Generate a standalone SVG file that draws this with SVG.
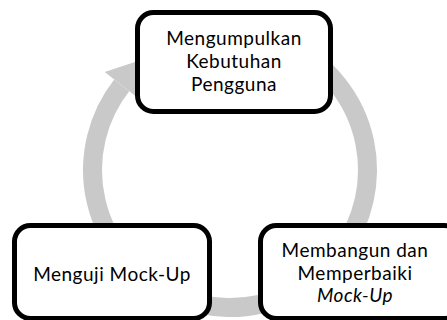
<svg xmlns="http://www.w3.org/2000/svg" width="447" height="320" viewBox="0 0 447 320">
<style>
.box{fill:#ffffff;stroke:#000000;stroke-width:5}
.lbl{font-family:Lato,"Open Sans",sans-serif;font-size:19px;letter-spacing:0.5px;fill:#000000;text-anchor:middle}
.ring{fill:none;stroke:#c9c9c9;stroke-width:19}
.head{fill:#c9c9c9}
</style>
<rect width="447" height="320" fill="#ffffff"/>
<g id="connectors">
<path class="ring" d="M230,32.5 A137.5,137.5 0 1 1 121.7,85.3"/>
<polygon class="head" points="104.7,72.1 153.1,56 138.6,98.6"/>
</g>
<g id="node-kebutuhan">
<rect class="box" x="137.5" y="12.5" width="193" height="99" rx="16"/>
<text class="lbl" x="234" y="45">Mengumpulkan</text>
<text class="lbl" x="234" y="68">Kebutuhan</text>
<text class="lbl" x="234" y="91">Pengguna</text>
</g>
<g id="node-menguji">
<rect class="box" x="14.5" y="225.5" width="195" height="93" rx="16"/>
<text class="lbl" x="112" y="281">Menguji Mock-Up</text>
</g>
<g id="node-membangun">
<rect class="box" x="260.5" y="225.5" width="200" height="93" rx="16"/>
<text class="lbl" x="355" y="257">Membangun dan</text>
<text class="lbl" x="355" y="280">Memperbaiki</text>
<text class="lbl" x="355" y="302" font-style="italic">Mock-Up</text>
</g>
</svg>
